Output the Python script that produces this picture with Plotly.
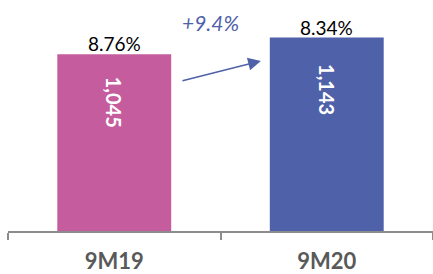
import plotly.graph_objects as go

categories = ["9M19", "9M20"]
values = [1045, 1143]
value_labels = ["1,045", "1,143"]
pct_labels = ["8.76%", "8.34%"]
growth_label = "+9.4%"
colors = ["#C55C9E", "#4F61A9"]

FONT = "Lato, Carlito, Calibri, sans-serif"
YMAX = 1365

fig = go.Figure()
fig.add_trace(go.Bar(
    x=categories, y=values, marker=dict(color=colors, line=dict(width=0)),
    width=0.536, hoverinfo="skip",
))

annotations = []
for c, v, vl, pl in zip(categories, values, value_labels, pct_labels):
    annotations.append(dict(x=c, y=v, text=pl, showarrow=False, yanchor="bottom",
                            yshift=-3, font=dict(family=FONT, size=19, color="#000000")))
    annotations.append(dict(x=c, y=v * 0.73, text="<b>%s</b>" % vl, showarrow=False,
                            textangle=90, font=dict(family=FONT, size=20, color="#FFFFFF")))

annotations.append(dict(x=0.455, y=1235, xref="x", yref="y", text="<i>%s</i>" % growth_label,
                        showarrow=False, font=dict(family=FONT, size=21, color="#4F61A9")))
annotations.append(dict(x=0.69, y=1005, ax=0.314, ay=886, xref="x", yref="y",
                        axref="x", ayref="y", text="", showarrow=True,
                        arrowhead=2, arrowsize=1.7, arrowwidth=1.5, arrowcolor="#4F61A9"))

fig.update_layout(
    width=433, height=274,
    margin=dict(l=8, r=0, t=0, b=43, autoexpand=False),
    paper_bgcolor="white", plot_bgcolor="white",
    showlegend=False,
    hovermode=False,
    annotations=annotations,
    xaxis=dict(showline=True, linecolor="#8C8C8C", linewidth=2,
               ticks="outside", tickson="boundaries", ticklen=7, tickcolor="#8C8C8C", tickwidth=2,
               tickfont=dict(family=FONT, size=22, color="#595959"),
               ticklabelstandoff=10, automargin=False,
               showgrid=False, zeroline=False, fixedrange=True),
    yaxis=dict(range=[0, YMAX], visible=False, showgrid=False, zeroline=False, fixedrange=True),
)
fig.update_xaxes(tickprefix="<b>", ticksuffix="</b>")

fig.write_html("out.html", config={"displayModeBar": False, "staticPlot": True},
               post_script="document.body.style.margin='0';")
